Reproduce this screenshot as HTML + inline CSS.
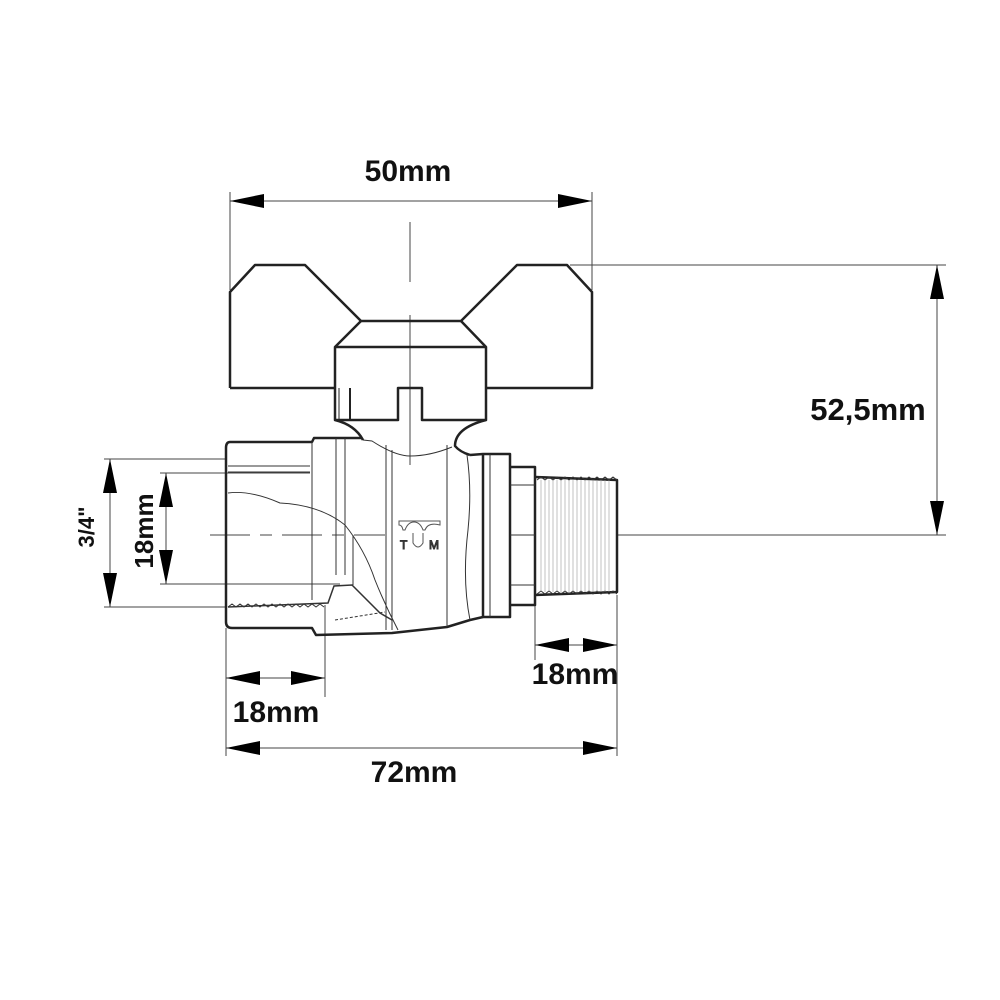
<!DOCTYPE html>
<html><head><style>
html,body{margin:0;padding:0;background:#fff;}
svg{display:block;}
text{font-family:"Liberation Sans",Arial,sans-serif;font-weight:bold;fill:#111;}
</style></head><body>
<svg width="1000" height="1000" viewBox="0 0 1000 1000" xmlns="http://www.w3.org/2000/svg">
<defs>
<marker id="a" viewBox="0 0 34 14" refX="34" refY="7" markerWidth="34" markerHeight="14" markerUnits="userSpaceOnUse" orient="auto-start-reverse">
<path d="M0,0 L34,7 L0,14 Z" fill="#000"/>
</marker>
</defs>
<g stroke="#444" stroke-width="1" fill="none">
<line x1="230" y1="192" x2="230" y2="290"/>
<line x1="592" y1="192" x2="592" y2="290"/>
<line x1="570" y1="265" x2="946" y2="265"/>
<line x1="617" y1="535" x2="946" y2="535"/>
<line x1="104" y1="459" x2="226" y2="459"/>
<line x1="104" y1="607" x2="226" y2="607"/>
<line x1="160" y1="473" x2="310" y2="473"/>
<line x1="160" y1="584" x2="340" y2="584"/>
<line x1="226" y1="628" x2="226" y2="756"/>
<line x1="325" y1="605" x2="325" y2="697"/>
<line x1="535" y1="595" x2="535" y2="660"/>
<line x1="617" y1="595" x2="617" y2="756"/>
<line x1="230" y1="201" x2="592" y2="201" marker-start="url(#a)" marker-end="url(#a)"/>
<line x1="937" y1="265" x2="937" y2="535" marker-start="url(#a)" marker-end="url(#a)"/>
<line x1="110" y1="459" x2="110" y2="607" marker-start="url(#a)" marker-end="url(#a)"/>
<line x1="166" y1="473" x2="166" y2="584" marker-start="url(#a)" marker-end="url(#a)"/>
<line x1="226" y1="678" x2="325" y2="678" marker-start="url(#a)" marker-end="url(#a)"/>
<line x1="226" y1="748" x2="617" y2="748" marker-start="url(#a)" marker-end="url(#a)"/>
<line x1="535" y1="645" x2="617" y2="645" marker-start="url(#a)" marker-end="url(#a)"/>
<line x1="410" y1="222" x2="410" y2="285" stroke-dasharray="60 14 4 14"/>
<line x1="410" y1="315" x2="410" y2="465"/>
<line x1="210" y1="535" x2="385" y2="535" stroke-dasharray="40 10 12 10"/>
</g>
<g stroke="#222" stroke-width="2.5" fill="none" stroke-linejoin="round">
<path d="M230,388 L230,292 L255,265 L305,265 L361,321 L461,321 L517,265 L567,265 L592,292 L592,388 L486,388"/>
<path d="M230,388 L335,388"/>
<path d="M361,321 L335,347 L335,420 L398,420 L398,388 L422,388 L422,420 L486,420 L486,347 L461,321"/>
<line x1="335" y1="347" x2="486" y2="347"/>
<line x1="350" y1="388" x2="350" y2="420" stroke-width="2"/>
<line x1="339" y1="388" x2="339" y2="420" stroke-width="1"/>
<path d="M335,420 Q355,425 363,440" />
<path d="M486,420 Q455,428 455,446 Q460,452 470,455" />
<path d="M230,442 L312,442 L314,438 L362,438"/>
<path d="M230,442 Q226,442 226,448 L226,622 Q226,628 232,628 L312,628 L316,635 L392,633 L447,627 L470,620 L483,617"/>
<path d="M470,455 L483,454 L510,454 L510,617 L483,617 L483,454"/>
<path d="M510,467 L535,467 L535,605 L510,605"/>
<path d="M535,477 L617,480 L617,592 L535,595"/>
</g>
<g stroke="#333" stroke-width="1" fill="none">
<line x1="312" y1="442" x2="312" y2="600"/>
<line x1="336" y1="438" x2="336" y2="575"/>
<line x1="345" y1="438" x2="345" y2="575"/>
<line x1="386" y1="445" x2="386" y2="630"/>
<line x1="392" y1="450" x2="392" y2="630"/>
<line x1="447" y1="445" x2="447" y2="627"/>
<line x1="490" y1="454" x2="490" y2="617"/>
<path d="M363,440 L372,441 Q395,456 410,456 Q430,456 452,447"/>
<path d="M467,455 Q472,490 468,530 Q462,580 470,620"/>
<line x1="228" y1="466" x2="310" y2="466"/>
<line x1="228" y1="472" x2="310" y2="472"/>
<path d="M228,493 Q250,490 280,503 Q320,505 345,525 Q365,550 375,580 Q385,605 398,630"/>
<line x1="353" y1="535" x2="353" y2="585"/>
<line x1="510" y1="485" x2="535" y2="485"/>
<line x1="510" y1="535" x2="535" y2="535"/>
<line x1="510" y1="585" x2="535" y2="585"/>
<path d="M228,607 L328,603 L334,586 L352,585 L380,613 L392,620" stroke-width="1.5"/>
<path d="M335,620 L385,612" stroke-dasharray="3 2"/>
<path d="M228,607 l4,-3 l4,3 l4,-3 l4,3 l4,-3 l4,3 l4,-3 l4,3 l4,-3 l4,3 l4,-3 l4,3 l4,-3 l4,3 l4,-3 l4,3 l4,-3 l4,3 l4,-3 l4,3 l4,-3 l4,3 l4,-3 l4,3"/>
<path d="M537,480 l4,-3 l4,3 l4,-3 l4,3 l4,-3 l4,3 l4,-3 l4,3 l4,-3 l4,3 l4,-3 l4,3 l4,-3 l4,3 l4,-3 l4,3 l4,-3 l4,3 l4,-3 l4,3"/>
<path d="M537,594 l4,-3 l4,3 l4,-3 l4,3 l4,-3 l4,3 l4,-3 l4,3 l4,-3 l4,3 l4,-3 l4,3 l4,-3 l4,3 l4,-3 l4,3 l4,-3 l4,3 l4,-3 l4,3"/>
<g stroke="#999" stroke-width="0.6">
<line x1="541" y1="480" x2="541" y2="592"/><line x1="545" y1="480" x2="545" y2="592"/><line x1="549" y1="480" x2="549" y2="592"/><line x1="553" y1="480" x2="553" y2="592"/><line x1="557" y1="480" x2="557" y2="592"/><line x1="561" y1="480" x2="561" y2="592"/><line x1="565" y1="480" x2="565" y2="592"/><line x1="569" y1="480" x2="569" y2="592"/><line x1="573" y1="480" x2="573" y2="592"/><line x1="577" y1="480" x2="577" y2="592"/><line x1="581" y1="480" x2="581" y2="592"/><line x1="585" y1="480" x2="585" y2="592"/><line x1="589" y1="480" x2="589" y2="592"/><line x1="593" y1="480" x2="593" y2="592"/><line x1="597" y1="480" x2="597" y2="592"/><line x1="601" y1="480" x2="601" y2="592"/><line x1="605" y1="480" x2="605" y2="592"/><line x1="609" y1="480" x2="609" y2="592"/>
</g>
<path d="M399,525 L399,521 L440,521 L440,525 Q428,522 425,530 L423,530 Q420,522 414,522 Q408,522 405,530 L403,530 Q402,525 399,525 Z" stroke="#555"/>
<text x="400" y="549" font-size="12" style="font-weight:normal;fill:#555">T</text>
<path d="M413,533 L413,543 Q418,551 423,543 L423,533" stroke="#555"/>
<text x="429" y="549" font-size="12" style="font-weight:normal;fill:#555">M</text>
</g>
<text x="408" y="181" font-size="30" text-anchor="middle">50mm</text>
<text x="868" y="420" font-size="31" text-anchor="middle">52,5mm</text>
<text x="276" y="722" font-size="30" text-anchor="middle">18mm</text>
<text x="575" y="684" font-size="30" text-anchor="middle">18mm</text>
<text x="414" y="782" font-size="30" text-anchor="middle">72mm</text>
<text transform="translate(94,527) rotate(-90)" font-size="22" text-anchor="middle">3/4"</text>
<text transform="translate(153,531) rotate(-90)" font-size="26" text-anchor="middle">18mm</text>
</svg>
</body></html>
